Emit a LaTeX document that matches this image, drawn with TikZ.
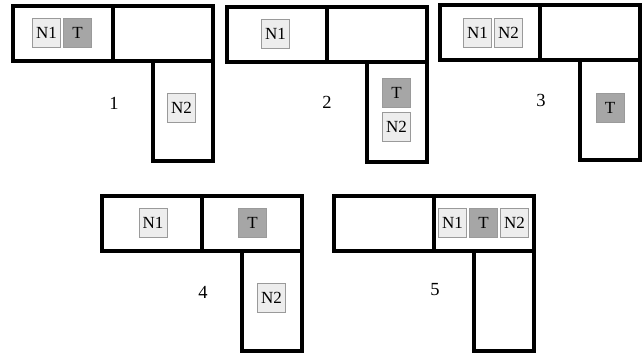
\documentclass[tikz,border=0pt]{standalone}
\usepackage{fontspec}
\setmainfont{Liberation Serif}
\definecolor{boxlight}{HTML}{EDEDED}
\definecolor{boxdark}{HTML}{A6A6A6}
\definecolor{boxedge}{HTML}{9A9A9A}
\tikzset{
  wall/.style={line width=3.2pt, line join=miter},
  cell/.style={draw=boxedge, line width=0.8pt, minimum width=28pt, minimum height=29pt,
               inner sep=0pt, font=\fontsize{17}{17}\selectfont},
  light/.style={cell, fill=boxlight},
  dark/.style={cell, fill=boxdark},
  stage/.style={font=\fontsize{18.5}{18.5}\selectfont, inner sep=0pt},
  pics/corridor/.style={code={
    \draw[wall] (0,0) rectangle (200,55);
    \draw[wall] (100,0) -- (100,55);
    \draw[wall] (140,55) -- (140,155) -- (200,155) -- (200,55);
  }}
}
\begin{document}
\begin{tikzpicture}[x=1pt, y=-1pt]
\useasboundingbox (0,0) rectangle (642,354);

% stage 1
\begin{scope}[shift={(13,6)}]
  \pic {corridor};
  \node[light] (n1a) at (33.5,27) {N1};
  \node[dark]  (ta)  at (64.5,27) {T};
  \node[light] (n2a) at (168.5,101.5) {N2};
  \node[stage] (la) at (101,97) {1};
\end{scope}

% stage 2
\begin{scope}[shift={(227,7)}]
  \pic {corridor};
  \node[light] (n1b) at (48.5,27) {N1};
  \node[dark]  (tb)  at (169.5,86) {T};
  \node[light] (n2b) at (169.5,120) {N2};
  \node[stage] (lb) at (100,95) {2};
\end{scope}

% stage 3
\begin{scope}[shift={(440,5)}]
  \pic {corridor};
  \node[light] (n1c) at (37.5,27.5) {N1};
  \node[light] (n2c) at (68.5,27.5) {N2};
  \node[dark]  (tc)  at (170,102.5) {T};
  \node[stage] (lc) at (101,95) {3};
\end{scope}

% stage 4
\begin{scope}[shift={(102,196)}]
  \pic {corridor};
  \node[light] (n1d) at (51,27) {N1};
  \node[dark]  (td)  at (150.5,27) {T};
  \node[light] (n2d) at (169.5,101.5) {N2};
  \node[stage] (ld) at (101,96) {4};
\end{scope}

% stage 5
\begin{scope}[shift={(334,196)}]
  \pic {corridor};
  \node[light] (n1e) at (118.5,27) {N1};
  \node[dark]  (te)  at (149.5,27) {T};
  \node[light] (n2e) at (180.5,27) {N2};
  \node[stage] (le) at (101,94) {5};
\end{scope}
\end{tikzpicture}
\end{document}
